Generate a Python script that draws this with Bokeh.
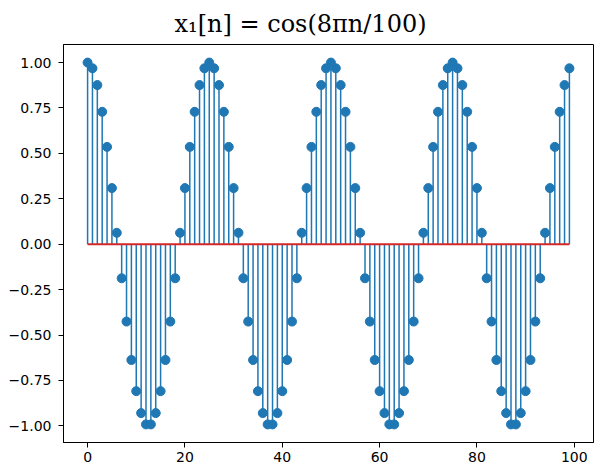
from bokeh.plotting import figure
from bokeh.models import Range1d, CustomJSTickFormatter, FixedTicker
from bokeh.embed import file_html
from bokeh.resources import INLINE

# sample index
n = list(range(100))

# signal values x1[n]
x1 = [
    1.0, 0.9686, 0.8763, 0.729, 0.5358, 0.309, 0.0628, -0.1874, -0.4258, -0.6374,
    -0.809, -0.9298, -0.9921, -0.9921, -0.9298, -0.809, -0.6374, -0.4258, -0.1874, 0.0628,
    0.309, 0.5358, 0.729, 0.8763, 0.9686,
    1.0, 0.9686, 0.8763, 0.729, 0.5358, 0.309, 0.0628, -0.1874, -0.4258, -0.6374,
    -0.809, -0.9298, -0.9921, -0.9921, -0.9298, -0.809, -0.6374, -0.4258, -0.1874, 0.0628,
    0.309, 0.5358, 0.729, 0.8763, 0.9686,
    1.0, 0.9686, 0.8763, 0.729, 0.5358, 0.309, 0.0628, -0.1874, -0.4258, -0.6374,
    -0.809, -0.9298, -0.9921, -0.9921, -0.9298, -0.809, -0.6374, -0.4258, -0.1874, 0.0628,
    0.309, 0.5358, 0.729, 0.8763, 0.9686,
    1.0, 0.9686, 0.8763, 0.729, 0.5358, 0.309, 0.0628, -0.1874, -0.4258, -0.6374,
    -0.809, -0.9298, -0.9921, -0.9921, -0.9298, -0.809, -0.6374, -0.4258, -0.1874, 0.0628,
    0.309, 0.5358, 0.729, 0.8763, 0.9686,
]
baseline = [0.0] * len(n)

x_ticks = [0, 20, 40, 60, 80, 100]
y_ticks = [-1.0, -0.75, -0.5, -0.25, 0.0, 0.25, 0.5, 0.75, 1.0]
title_text = "x\u2081[n] = cos(8\u03c0n/100)"

p = figure(width=594, height=467, output_backend="svg", toolbar_location=None,
           x_range=Range1d(-4.95, 103.95), y_range=Range1d(-1.0917, 1.0996),
           title=title_text,
           min_border_left=63, min_border_right=1, min_border_top=44, min_border_bottom=25)

p.title.align = "left"
p.title.offset = 111
p.title.standoff = 13
p.title.text_font = "DejaVu Sans" if False else "DejaVu Serif"
p.title.text_font_size = "24px"
p.title.text_font_style = "normal"
p.title.text_color = "black"

p.grid.visible = False
p.outline_line_color = "black"
p.outline_line_width = 1
p.background_fill_color = "white"
p.border_fill_color = "white"

for ax in (p.xaxis[0], p.yaxis[0]):
    ax.major_tick_out = 5
    ax.major_tick_in = 0
    ax.minor_tick_out = 0
    ax.minor_tick_in = 0
    ax.major_tick_line_color = "black"
    ax.axis_line_color = "black"
    ax.major_label_text_font = "DejaVu Sans"
    ax.major_label_text_font_size = "14px"
    ax.major_label_text_color = "black"

p.xaxis.major_label_standoff = 4
p.yaxis.major_label_standoff = 7

p.xaxis.ticker = FixedTicker(ticks=x_ticks)
p.yaxis.ticker = FixedTicker(ticks=y_ticks)
p.yaxis.formatter = CustomJSTickFormatter(code="return tick.toFixed(2).replace('-', '\u2212');")
p.xaxis.formatter = CustomJSTickFormatter(code="return tick.toFixed(0);")

p.segment(x0=n, y0=baseline, x1=n, y1=x1, line_color="#1f77b4", line_width=1.5)
p.scatter(x=n, y=x1, size=9, fill_color="#1f77b4", line_color="#1f77b4")
p.line(x=[n[0], n[-1]], y=[baseline[0], baseline[-1]], line_color="#d62728", line_width=2)

open("out.html", "w").write(file_html(p, INLINE))
